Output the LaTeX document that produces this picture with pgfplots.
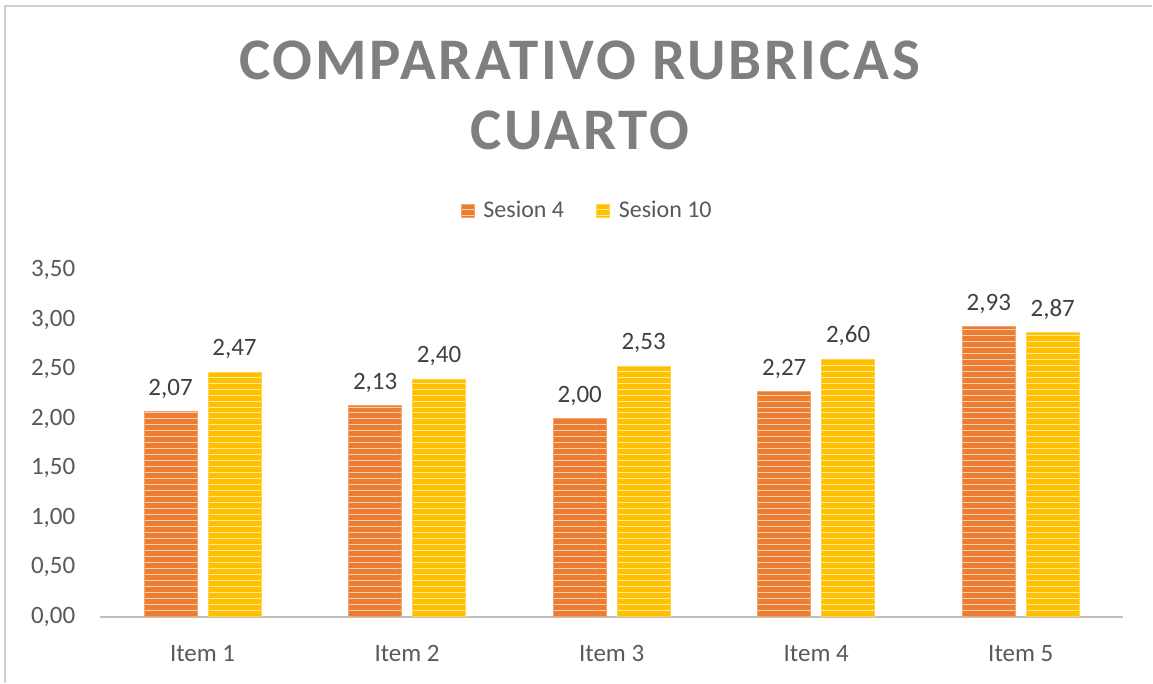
\documentclass[border=0pt]{standalone}
\usepackage{fontspec}
\setmainfont{Carlito}
\usepackage{pgfplots}
\pgfplotsset{compat=1.18}
\usetikzlibrary{patterns}
\definecolor{oran}{HTML}{ED7D31}
\definecolor{yel}{HTML}{FFC000}
\definecolor{txt}{HTML}{595959}
\definecolor{lbl}{HTML}{404040}
\definecolor{ttl}{HTML}{7F7F7F}
\begin{document}
\begin{tikzpicture}[x=0.5pt,y=0.5pt]
\draw[draw=white] (0,0) rectangle (1153,683);
\draw[draw=black!18, line width=1pt] (5,0) -- (5,677) -- (1153,677);
\node[font=\fontsize{29.5}{35}\selectfont\bfseries\addfontfeature{LetterSpace=5}, text=ttl, align=center] at (580,588) {COMPARATIVO RUBRICAS\\CUARTO};
\begin{axis}[
  at={(50pt,33pt)}, anchor=south west,
  width=512pt, height=173.5pt, scale only axis,
  xmin=-0.5, xmax=4.5, ymin=0, ymax=3.5,
  xtick={0,1,2,3,4}, xticklabels={Item 1,Item 2,Item 3,Item 4,Item 5},
  ytick={0,0.5,1,1.5,2,2.5,3,3.5},
  /pgf/number format/.cd, fixed, fixed zerofill, precision=2, use comma, assume math mode=true,
  /pgfplots/.cd,
  yticklabel style={font=\fontsize{12.5}{14}\selectfont, text=txt, xshift=-9pt},
  xticklabel style={font=\fontsize{12.5}{14}\selectfont, text=txt, yshift=-11pt},
  axis x line=bottom, axis y line=left,
  x axis line style={draw=black!25, line width=1pt, -},
  y axis line style={draw=none},
  major tick length=0pt,
  tick style={draw=none},
  ybar, bar width=26.5pt,
  nodes near coords,
  every node near coord/.append style={font=\fontsize{12.5}{14}\selectfont, text=lbl, yshift=3pt, /pgf/number format/.cd, fixed, fixed zerofill, precision=2, use comma, assume math mode=true},
  legend style={at={(0.477,1.17)}, anchor=center, draw=none, legend columns=2, font=\fontsize{12}{14}\selectfont, text=txt, /tikz/every even column/.append style={column sep=14pt}},
  legend image code/.code={\fill[#1] (-2.5pt,-3pt) rectangle (4pt,3.5pt);},
  clip=false,
]
\addplot[bar shift=-16pt, draw=oran!70!white, fill=oran, postaction={pattern=horizontal lines, pattern color=oran!35!white}] coordinates {(0,2.07) (1,2.13) (2,2.00) (3,2.27) (4,2.93)};
\addplot[bar shift=16pt, draw=yel!70!white, fill=yel, postaction={pattern=horizontal lines, pattern color=yel!35!white}] coordinates {(0,2.47) (1,2.40) (2,2.53) (3,2.60) (4,2.87)};
\legend{\hspace{2.5pt}Sesion 4, \hspace{2.5pt}Sesion 10}
\end{axis}
\end{tikzpicture}
\end{document}
